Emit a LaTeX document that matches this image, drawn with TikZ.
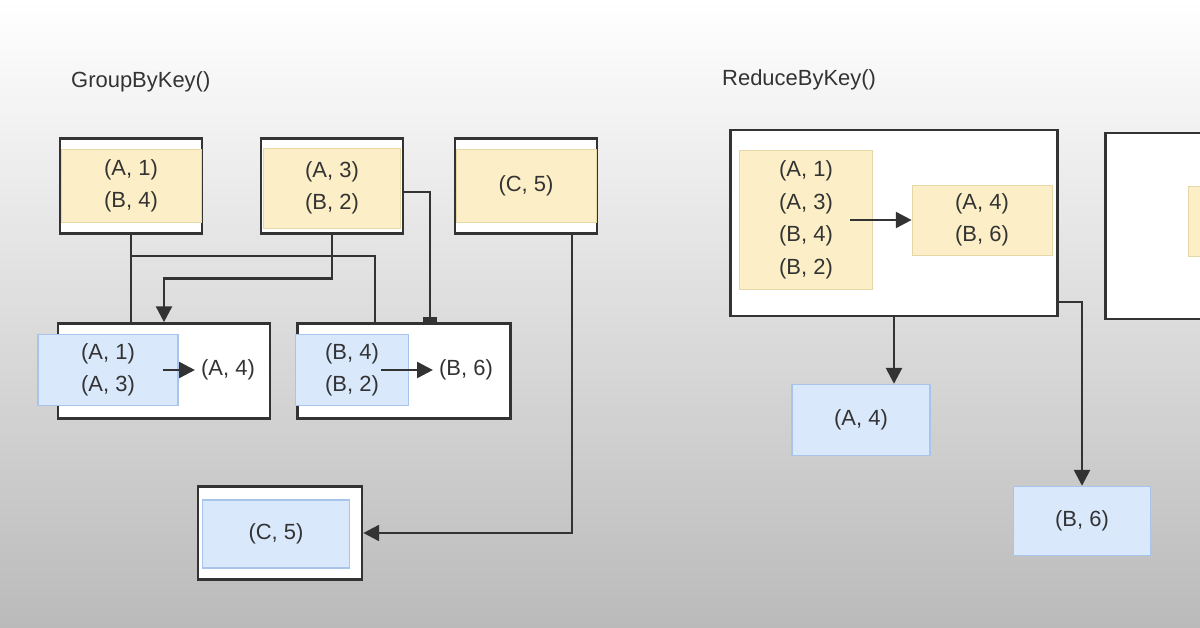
\documentclass[tikz,border=0pt]{standalone}
\usepackage{fontspec}
\setmainfont{Liberation Sans}
\usetikzlibrary{arrows.meta}
\definecolor{lineg}{HTML}{333333}
\definecolor{yell}{HTML}{FCEFC7}
\definecolor{yelld}{HTML}{E6D8A6}
\definecolor{blu}{HTML}{DAE8FC}
\definecolor{blud}{HTML}{A9C4EB}
\tikzset{
  frame/.style={rectangle, fill=white, draw=lineg, line width=1.5pt},
  ybox/.style={rectangle, fill=yell, draw=yelld, align=center, text=lineg},
  bbox/.style={rectangle, fill=blu, draw=blud, line width=0.8pt, align=center, text=lineg},
  lbl/.style={text=lineg, align=center},
  conn/.style={draw=lineg, line width=1.5pt},
  arr/.style={conn, -{Triangle[length=9pt,width=9pt]}}
}
\begin{document}
\begin{tikzpicture}[x=0.02cm, y=-0.02cm, font=\fontsize{12.5}{18.5}\selectfont]
\clip (0,0) rectangle (1200,628);
\shade[top color=white, bottom color=black!27] (0,0) rectangle (1200,628);

\node[lbl, anchor=west] (t1) at (65,82) {GroupByKey()};
\node[lbl, anchor=west] (t2) at (716,80) {ReduceByKey()};

% input partitions
\node (p1) [frame, minimum width=2.84cm, minimum height=1.9cm] at (131,186) {};
\node (p1in) [ybox, minimum width=2.8cm, minimum height=1.45cm] at (131,186) {(A, 1)\\(B, 4)};
\node (p2) [frame, minimum width=2.84cm, minimum height=1.9cm] at (332,186) {};
\node (p2in) [ybox, minimum width=2.75cm, minimum height=1.6cm] at (332,188) {(A, 3)\\(B, 2)};
\node (p3) [frame, minimum width=2.84cm, minimum height=1.9cm] at (526,186) {};
\node (p3in) [ybox, minimum width=2.8cm, minimum height=1.45cm] at (526,186) {(C, 5)};

% grouped
\node (g1) [frame, minimum width=4.24cm, minimum height=1.9cm] at (164,371) {};
\node (g1in) [bbox, minimum width=2.8cm, minimum height=1.42cm] at (108,370) {(A, 1)\\(A, 3)};
\node (g1res) [lbl] at (228,370) {(A, 4)};
\node (g2) [frame, minimum width=4.26cm, minimum height=1.9cm] at (404,371) {};
\node (g2in) [bbox, minimum width=2.26cm, minimum height=1.42cm] at (352,370) {(B, 4)\\(B, 2)};
\node (g2res) [lbl] at (466,370) {(B, 6)};
\node (g3) [frame, minimum width=3.28cm, minimum height=1.86cm] at (280,533) {};
\node (g3in) [bbox, minimum width=2.94cm, minimum height=1.36cm] at (276,534) {(C, 5)};

\draw[conn] (p1.south) -- (p1.south |- g1.north);
\coordinate (j1) at (131,256);
\draw[conn] (j1) -| ([xshift=-0.58cm]g2.north);
\draw[arr] (p2.south) -- ++(0,44) -| (g1.north);
\draw[conn, -{Rectangle[length=3pt,width=8pt]}] ([yshift=-0.12cm]p2.east) -| ([xshift=0.52cm]g2.north);
\draw[arr] ([xshift=0.92cm]p3.south) |- (g3.east);
\draw[arr] ([xshift=-0.32cm]g1in.east) -- (g1res.west);
\draw[arr] ([xshift=-0.56cm]g2in.east) -- (g2res.west);

% reduce side
\node (r1) [frame, minimum width=6.54cm, minimum height=3.72cm] at (894,223) {};
\node (r1in) [ybox, minimum width=2.66cm, minimum height=2.78cm] at (806,220) {(A, 1)\\(A, 3)\\(B, 4)\\(B, 2)};
\node (r1out) [ybox, minimum width=2.8cm, minimum height=1.4cm] at (982,220) {(A, 4)\\(B, 6)};
\node (r2) [frame, minimum width=3.3cm, minimum height=3.72cm] at (1188,226) {};
\node (r2out) [ybox, minimum width=2.8cm, minimum height=1.4cm] at (1258,221) {};
\node (a4) [bbox, minimum width=2.76cm, minimum height=1.42cm] at (861,420) {(A, 4)};
\node (b6) [bbox, minimum width=2.74cm, minimum height=1.38cm] at (1082,521) {(B, 6)};

\draw[arr] ([xshift=-0.46cm]r1in.east) -- (r1out.west);
\draw[arr] (r1.south) -- (r1.south |- a4.north);
\draw[arr] ([yshift=-1.58cm]r1.east) -| (b6.north);
\end{tikzpicture}
\end{document}
